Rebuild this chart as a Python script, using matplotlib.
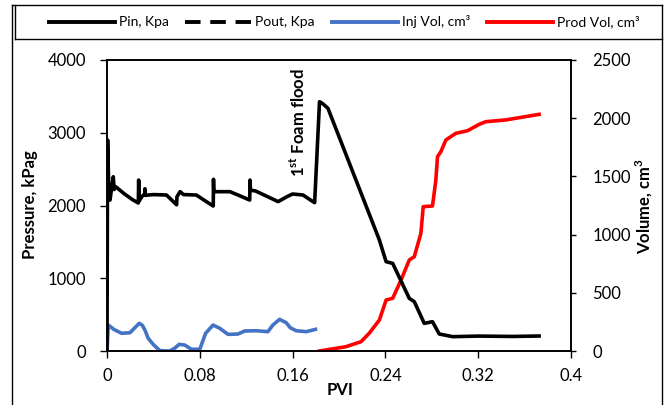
import matplotlib
matplotlib.use("Agg")
import matplotlib.pyplot as plt
from matplotlib.lines import Line2D

plt.rcParams['font.family'] = ['Lato', 'DejaVu Sans']
plt.rcParams['mathtext.fontset'] = 'custom'
plt.rcParams['mathtext.rm'] = 'Lato'
plt.rcParams['mathtext.bf'] = 'Lato:bold'

# ---- data ----
pin_pvi = [0, 0.0005, 0.0015, 0.0026, 0.0045, 0.0054, 0.0062, 0.0075, 0.015, 0.022, 0.027,
           0.0273, 0.0276, 0.030, 0.0325, 0.0327, 0.0330, 0.040, 0.0513, 0.060, 0.0603, 0.063,
           0.066, 0.077, 0.085, 0.0916, 0.0918, 0.0921, 0.106, 0.115, 0.123, 0.1233, 0.1237,
           0.128, 0.140, 0.1475, 0.155, 0.160, 0.169, 0.175, 0.179, 0.1832, 0.186, 0.1905,
           0.2348, 0.2406, 0.2463, 0.2606, 0.2649, 0.2735, 0.2806, 0.2864, 0.298, 0.32, 0.35, 0.3725]
pin_kpa = [0, 2900, 2250, 2075, 2300, 2395, 2220, 2258, 2160, 2080, 2035,
           2350, 2060, 2120, 2160, 2230, 2140, 2150, 2144, 2010, 2120, 2190,
           2150, 2144, 2060, 1993, 2360, 2190, 2190, 2130, 2075, 2350, 2210,
           2200, 2110, 2053, 2120, 2158, 2144, 2080, 2039, 3427, 3400, 3335,
           1526, 1228, 1204, 723, 678, 380, 403, 234, 197, 205, 200, 206]

inj_pvi = [0, 0.0011, 0.006, 0.0126, 0.0198, 0.024, 0.0278, 0.0305, 0.0327, 0.0355, 0.040,
           0.0456, 0.0542, 0.0585, 0.0622, 0.067, 0.0728, 0.080, 0.085, 0.0914, 0.0972, 0.1043,
           0.1129, 0.1187, 0.1287, 0.1387, 0.143, 0.1488, 0.1545, 0.158, 0.1631, 0.1717, 0.1797]
inj_vol = [0, 223, 185, 152, 157, 200, 238, 220, 180, 109, 55,
           3, 0, 25, 57, 51, 15, 15, 152, 223, 195, 143,
           146, 172, 174, 166, 223, 272, 243, 200, 174, 166, 186]

prod_pvi = [0.1832, 0.206, 0.219, 0.226, 0.2348, 0.2406, 0.2463, 0.2535, 0.2606, 0.2649,
            0.2706, 0.2726, 0.2806, 0.2835, 0.2849, 0.2878, 0.2921, 0.3007, 0.3107, 0.3208,
            0.3265, 0.3437, 0.3725]
prod_vol = [0, 37, 80, 152, 266, 438, 453, 610, 782, 810,
            1011, 1240, 1246, 1469, 1669, 1712, 1813, 1870, 1892, 1947,
            1970, 1985, 2033]

xticks = [0, 0.08, 0.16, 0.24, 0.32, 0.4]
xticklabels = ["0", "0.08", "0.16", "0.24", "0.32", "0.4"]
yticks_left = [0, 1000, 2000, 3000, 4000]
yticks_right = [0, 500, 1000, 1500, 2000, 2500]

W, H = 668, 405
fig = plt.figure(figsize=(W / 100, H / 100), dpi=100)
ax = fig.add_axes([107 / W, 1 - 351 / H, (571 - 107) / W, (351 - 60) / H])
ax2 = ax.twinx()

ax.plot(pin_pvi, pin_kpa, color='black', lw=2.6, solid_joinstyle='round', zorder=3)
ax2.plot(inj_pvi, inj_vol, color='#4472C4', lw=2.6, solid_joinstyle='round')
ax2.plot(prod_pvi, prod_vol, color='#FF0000', lw=2.6, solid_joinstyle='round')
ax.set_zorder(ax2.get_zorder() + 1)
ax.patch.set_visible(False)

ax.set_xlim(0, 0.4)
ax.set_ylim(0, 4000)
ax2.set_ylim(0, 2500)
ax.set_xticks(xticks)
ax.set_xticklabels(xticklabels)
ax.set_yticks(yticks_left)
ax2.set_yticks(yticks_right)

ax.tick_params(axis='x', direction='out', length=5, width=1, labelsize=12, pad=7, colors='black')
ax.tick_params(axis='y', direction='out', length=5, width=1, labelsize=12, pad=10)
ax2.tick_params(axis='y', direction='out', length=3.5, width=1, labelsize=12, pad=12)
for a in (ax, ax2):
    for s in a.spines.values():
        s.set_linewidth(1.2)
        s.set_color('black')

ax.text(0.1652, 3140, r'1$^{\mathbf{st}}$ Foam flood', rotation=90, ha='center', va='center',
        fontsize=12, fontweight='bold')

fig.text(30 / W, 1 - 205 / H, 'Pressure, kPag', rotation=90, ha='center', va='center',
         fontsize=12, fontweight='bold')
fig.text(644 / W, 1 - 206 / H, r'Volume, cm$^{\mathbf{3}}$', rotation=90, ha='center', va='center',
         fontsize=12, fontweight='bold')
fig.text(340 / W, 1 - 390 / H, 'PVI', ha='center', va='center', fontsize=12, fontweight='bold')

handles = [Line2D([], [], color='black', lw=2.8),
           Line2D([], [], color='black', lw=2.8, ls=(0, (4, 2.5))),
           Line2D([], [], color='#4472C4', lw=2.8),
           Line2D([], [], color='#FF0000', lw=2.8)]
labels = ['Pin, Kpa', 'Pout, Kpa', 'Inj Vol, cm³', 'Prod Vol, cm³']
fig.legend(handles, labels, loc='center', bbox_to_anchor=(344 / W, 1 - 22 / H), ncol=4,
           frameon=False, fontsize=10, handlelength=4.75, columnspacing=1.2, handletextpad=0.3,
           borderaxespad=0, borderpad=0)

def fline(x0, y0, x1, y1):
    fig.add_artist(Line2D([x0 / W, x1 / W], [1 - y0 / H, 1 - y1 / H], color='black', lw=1.0,
                          transform=fig.transFigure))

fline(12, 5, 12, 410)
fline(12, 5, 662, 5)
fline(662, 5, 662, 410)
fline(15, 5, 15, 39)
fline(15, 39, 662, 39)

fig.savefig('out.png', dpi=100)
